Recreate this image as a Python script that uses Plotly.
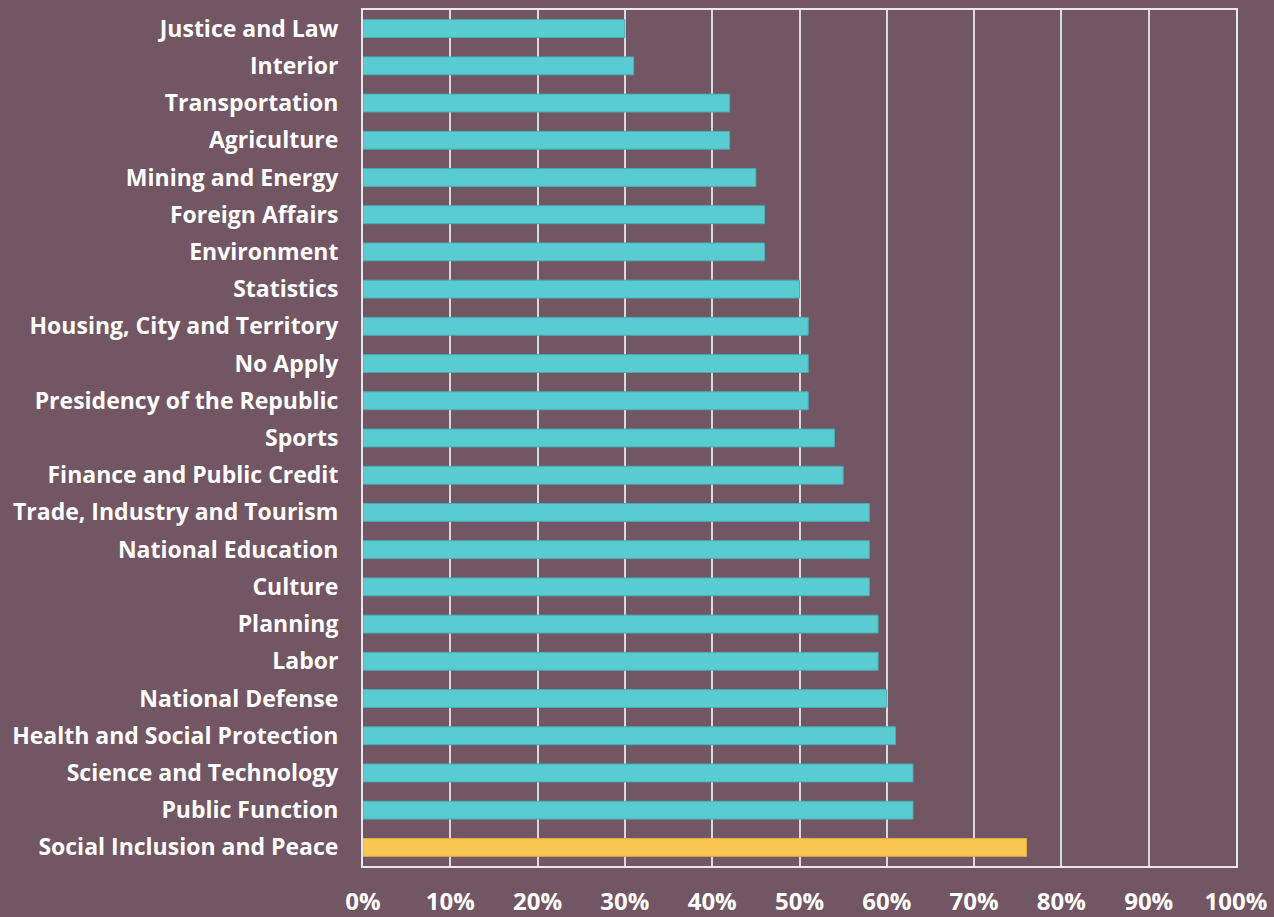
import plotly.graph_objects as go

# Ministries, listed top to bottom as in the chart
sectors = [
    "Justice and Law", "Interior", "Transportation", "Agriculture",
    "Mining and Energy", "Foreign Affairs", "Environment", "Statistics",
    "Housing, City and Territory", "No Apply", "Presidency of the Republic",
    "Sports", "Finance and Public Credit", "Trade, Industry and Tourism",
    "National Education", "Culture", "Planning", "Labor", "National Defense",
    "Health and Social Protection", "Science and Technology",
    "Public Function", "Social Inclusion and Peace",
]
shares = [30, 31, 42, 42, 45, 46, 46, 50, 51, 51, 51, 54, 55, 58, 58, 58,
          59, 59, 60, 61, 63, 63, 76]
highlight = "Social Inclusion and Peace"

tick_vals = [0, 10, 20, 30, 40, 50, 60, 70, 80, 90, 100]
tick_text = [f"{v}%" for v in tick_vals]

BG = "#725664"
CYAN = "#58CCD1"
GOLD = "#F9C74F"

colors = [GOLD if s == highlight else CYAN for s in sectors]
outline = ["#E0B040" if s == highlight else "#48AEB4" for s in sectors]

fig = go.Figure(go.Bar(
    x=shares,
    y=sectors,
    orientation="h",
    width=0.48,
    marker=dict(color=colors, line=dict(color=outline, width=1)),
))

fig.update_layout(
    width=1274,
    height=917,
    paper_bgcolor=BG,
    plot_bgcolor=BG,
    margin=dict(l=363, r=38, t=10, b=51),
    font=dict(family="Open Sans", color="white"),
    showlegend=False,
)

fig.update_xaxes(
    range=[0, 100],
    tickvals=tick_vals,
    ticktext=tick_text,
    tickfont=dict(size=24, family="Open Sans", weight="bold"),
    showgrid=True,
    gridcolor="#D9D9D9",
    gridwidth=2,
    zeroline=False,
    showline=True,
    linecolor="#E8E8E8",
    linewidth=2,
    mirror=True,
    ticks="outside",
    ticklen=13,
    tickcolor=BG,
    automargin=False,
    fixedrange=True,
)

fig.update_yaxes(
    categoryorder="array",
    categoryarray=sectors,
    autorange="reversed",
    tickfont=dict(size=23, family="Open Sans", weight="bold"),
    showgrid=False,
    showline=True,
    linecolor="#E8E8E8",
    linewidth=2,
    mirror=True,
    ticks="outside",
    ticklen=18,
    tickcolor=BG,
    automargin=False,
    fixedrange=True,
)

# drop the page's default body margin so the figure fills the window
fig.write_html(
    "out.html",
    config={"displayModeBar": False},
    post_script="document.body.style.margin='0';",
)
